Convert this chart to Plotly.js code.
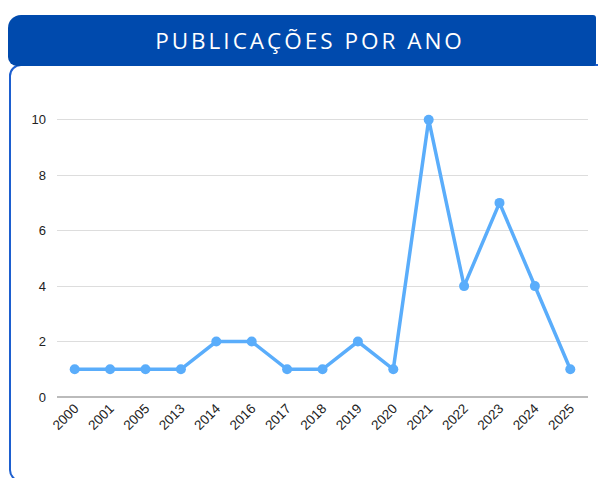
<!DOCTYPE html>
<html>
<head>
<meta charset="utf-8">
<script src="https://cdn.plot.ly/plotly-3.0.1.min.js"></script>
<style>
  html, body { margin: 0; padding: 0; background: #ffffff; }
  #wrap { position: relative; width: 598px; height: 478px; overflow: hidden; background: #ffffff; }
  #panel { position: absolute; left: 9px; top: 64px; width: 620px; height: 418px;
           border: 2px solid #1d5fcf; border-radius: 12px; box-sizing: border-box; }
  #header { position: absolute; left: 8px; top: 15px; width: 588px; height: 51px;
            background: #004aad; border-radius: 13px 3px 3px 9px; }
  #chart { position: absolute; left: 0; top: 0; width: 598px; height: 478px; }
  #chart .gtitle { letter-spacing: 3px; }
</style>
</head>
<body>
<div id="wrap">
  <div id="panel"></div>
  <div id="header"></div>
  <div id="chart"></div>
</div>
<script>
const years = ["2000","2001","2005","2013","2014","2016","2017","2018","2019","2020","2021","2022","2023","2024","2025"];
const publications = [1,1,1,1,2,2,1,1,2,1,10,4,7,4,1];
const yTicks = [0,2,4,6,8,10];
const chartTitle = "PUBLICAÇÕES POR ANO";

const trace = {
  x: years,
  y: publications,
  type: "scatter",
  mode: "lines+markers",
  line: { color: "#5aadfb", width: 3.5 },
  marker: { color: "#5aadfb", size: 10 },
  hoverinfo: "x+y"
};

const layout = {
  width: 598,
  height: 478,
  margin: { l: 57, r: 10, t: 92, b: 81 },
  paper_bgcolor: "rgba(0,0,0,0)",
  plot_bgcolor: "rgba(0,0,0,0)",
  showlegend: false,
  title: {
    text: chartTitle,
    font: { family: "'Open Sans', sans-serif", size: 22.5, color: "#ffffff" },
    x: 310/598, xanchor: "center",
    y: 1 - 41/478, yanchor: "middle",
    xref: "container", yref: "container"
  },
  xaxis: {
    type: "category",
    range: [-0.5, 14.5],
    showgrid: false,
    zeroline: false,
    showline: false,
    ticks: "",
    tickangle: -45,
    tickfont: { family: "'Liberation Sans', Arial, sans-serif", size: 13.5, color: "#222222" },
    fixedrange: true
  },
  yaxis: {
    range: [0, 11],
    tickvals: yTicks,
    ticktext: yTicks.map(String),
    showgrid: true,
    gridcolor: "#dddddd",
    gridwidth: 1,
    zeroline: true,
    zerolinecolor: "#bbbbbb",
    zerolinewidth: 2,
    showline: false,
    ticks: "",
    ticklabelstandoff: 10,
    tickfont: { family: "'Liberation Sans', Arial, sans-serif", size: 13, color: "#222222" },
    fixedrange: true
  }
};

Plotly.newPlot("chart", [trace], layout, { displayModeBar: false, staticPlot: true });
</script>
</body>
</html>
